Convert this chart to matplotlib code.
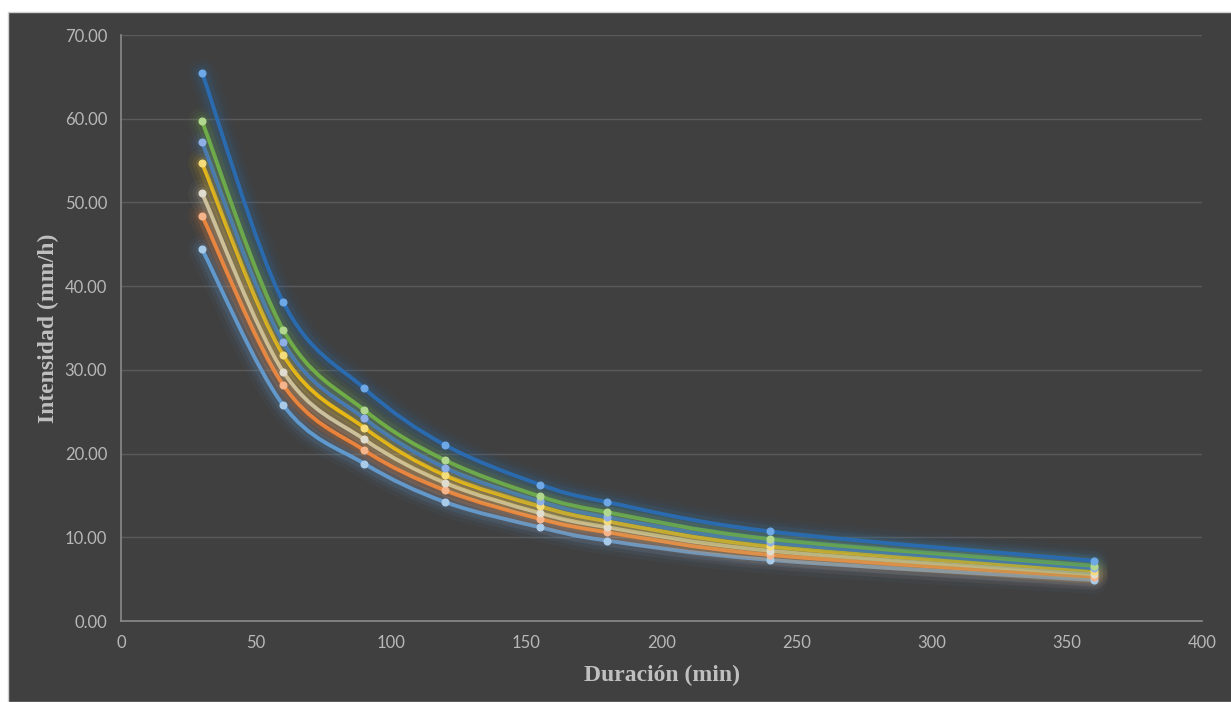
import numpy as np
import matplotlib
matplotlib.use("Agg")
import matplotlib.pyplot as plt
from matplotlib.path import Path
from matplotlib.patches import PathPatch, Rectangle
import matplotlib.patheffects as pe

# Duration (min) and intensity (mm/h) per curve
duracion = [30, 60, 90, 120, 155, 180, 240, 360]

serie_1 = [44.4, 25.8, 18.8, 14.2, 11.2, 9.6, 7.3, 4.9]    # light blue
serie_2 = [48.4, 28.2, 20.4, 15.6, 12.2, 10.6, 7.9, 5.3]   # orange
serie_3 = [51.1, 29.8, 21.7, 16.5, 12.9, 11.2, 8.4, 5.6]   # gray
serie_4 = [54.7, 31.8, 23.1, 17.4, 13.7, 11.9, 8.9, 6.0]   # gold
serie_5 = [57.2, 33.3, 24.2, 18.3, 14.3, 12.4, 9.4, 6.3]   # blue
serie_6 = [59.7, 34.8, 25.2, 19.2, 14.9, 13.0, 9.8, 6.6]   # green
serie_7 = [65.5, 38.1, 27.8, 21.0, 16.3, 14.2, 10.7, 7.2]  # dark blue

series = [serie_1, serie_2, serie_3, serie_4, serie_5, serie_6, serie_7]
colores = ['#5B9BD5', '#ED7D31', '#C9C0A8', '#FFC000', '#4472C4', '#70AD47', '#2A6BB0']
marcadores = ['#A9CBEA', '#F6B48A', '#E0DCCF', '#F5DC7A', '#8FB0E6', '#B2D88F', '#6FA8E6']

BG = '#404040'
TXT = '#B8B8B8'


def smooth_path(x, y):
    # Excel-like smoothed line: bezier segments through every point
    pts = np.column_stack([x, y]).astype(float)
    n = len(pts)
    verts = [pts[0]]
    codes = [Path.MOVETO]
    for i in range(n - 1):
        p0 = pts[i - 1] if i > 0 else pts[i]
        p1 = pts[i]
        p2 = pts[i + 1]
        p3 = pts[i + 2] if i + 2 < n else pts[i + 1]
        c1 = p1 + (p2 - p0) / 6.0
        c2 = p2 - (p3 - p1) / 6.0
        verts += [c1, c2, p2]
        codes += [Path.CURVE4] * 3
    return Path(verts, codes)


fig = plt.figure(figsize=(12.31, 7.02), dpi=100, facecolor='white')
fig.patches.append(Rectangle((8 / 1231, 0), 1, (702 - 12) / 702, transform=fig.transFigure,
                             facecolor=BG, edgecolor='#D0D0D0', linewidth=1.0, zorder=-1))

ax = fig.add_axes([121 / 1231, 1 - 621 / 702, (1202 - 121) / 1231, (621 - 35) / 702])
ax.set_facecolor('none')

for y, c, mc in zip(series, colores, marcadores):
    glow = [pe.Stroke(linewidth=20, foreground=c, alpha=0.05),
            pe.Stroke(linewidth=14, foreground=c, alpha=0.08),
            pe.Stroke(linewidth=9, foreground=c, alpha=0.14),
            pe.Normal()]
    patch = PathPatch(smooth_path(duracion, y), fill=False, edgecolor=c, linewidth=2.8,
                      capstyle='round', joinstyle='round', zorder=3)
    patch.set_path_effects(glow)
    ax.add_patch(patch)
    ax.plot(duracion, y, linestyle='none', marker='o', markersize=4.8,
            markerfacecolor=mc, markeredgecolor=mc, zorder=4)

ax.set_xlim(0, 400)
ax.set_ylim(0, 70)
ax.set_xticks(np.arange(0, 401, 50))
ax.set_yticks(np.arange(0, 71, 10))
ax.yaxis.set_major_formatter(matplotlib.ticker.FormatStrFormatter('%.2f'))
ax.grid(axis='y', color='#5A5A5A', linewidth=1.0)
ax.set_axisbelow(True)

for s in ['top', 'right']:
    ax.spines[s].set_visible(False)
for s in ['left', 'bottom']:
    ax.spines[s].set_color('#8A8A8A')
    ax.spines[s].set_linewidth(1.2)

ax.tick_params(length=0, colors=TXT, labelsize=12, pad=10)
for lab in ax.get_xticklabels() + ax.get_yticklabels():
    lab.set_fontfamily('Lato')

ax.set_xlabel('Duración (min)', fontsize=17, fontweight='bold', color='#BFBFBF',
              fontfamily='Liberation Serif', labelpad=10)
ax.set_ylabel('Intensidad (mm/h)', fontsize=17, fontweight='bold', color='#BFBFBF',
              fontfamily='Liberation Serif', labelpad=4)

fig.savefig('out.png', dpi=100, facecolor=fig.get_facecolor())
